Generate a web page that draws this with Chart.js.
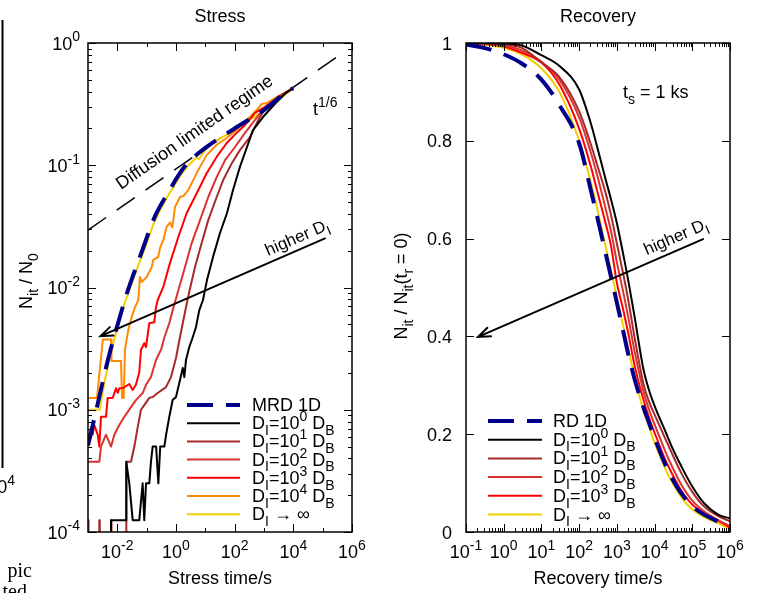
<!DOCTYPE html>
<html>
<head>
<meta charset="utf-8">
<script src="https://cdn.jsdelivr.net/npm/chart.js@4.4.1/dist/chart.umd.min.js"></script>
<style>
  html, body { margin: 0; padding: 0; background: #fff; }
  #wrap { position: relative; width: 760px; height: 593px; overflow: hidden; }
  canvas { position: absolute; top: 0; }
  #stress { left: 0; }
  #recovery { left: 380px; }
</style>
</head>
<body>
<div id="wrap">
  <canvas id="stress" width="380" height="593"></canvas>
  <canvas id="recovery" width="380" height="593"></canvas>
</div>
<script>
(function () {
    "use strict";

    // ---- stress panel: N_it / N_0 vs stress time (log-log) ----
    const stressTicksX = [1e-2, 1, 1e2, 1e4, 1e6];
    const stressTickLabelsX = ["10^{-2}", "10^{0}", "10^{2}", "10^{4}", "10^{6}"];
    const stressMinorX = [1e-1, 1e1, 1e3, 1e5];
    const stressTicksY = [1, 1e-1, 1e-2, 1e-3, 1e-4];
    const stressTickLabelsY = ["10^{0}", "10^{-1}", "10^{-2}", "10^{-3}", "10^{-4}"];

    const stressLabels = ["MRD 1D", "D_{I}=10^{0} D_{B}", "D_{I}=10^{1} D_{B}", "D_{I}=10^{2} D_{B}",
        "D_{I}=10^{3} D_{B}", "D_{I}=10^{4} D_{B}", "D_{I} \u2192 \u221e"];

    const mrdT = [1e-3, 2.2e-3, 4.8e-3, 9.8e-3, 2.3e-2, 5.9e-2, 0.19, 0.49, 2.0, 9.8, 100, 850, 5200, 9800];
    const mrdN = [5.1e-4, 1.15e-3, 2.57e-3, 4.8e-3, 9.5e-3, 1.78e-2, 3.8e-2, 5.75e-2, 9.8e-2, 0.138, 0.2, 0.275, 0.39, 0.427];

    const d0T = [6.05e-3, 6.1e-3, 2.0e-2, 2.02e-2, 2.56e-2, 3.34e-2, 5.6e-2, 7.3e-2, 8.3e-2, 9.5e-2, 0.123, 0.14, 0.16,
        0.21, 0.25, 0.29, 0.40, 0.46, 0.59, 0.77, 1.0, 1.48, 1.7, 1.92, 2.19, 2.84, 3.7, 4.8, 6.2, 8.3, 11.4, 18.3,
        31.6, 54.8, 88, 151, 263, 422, 925, 2400, 5200, 9800];
    const d0N = [1e-6, 1.25e-4, 1.25e-4, 3.75e-4, 2.5e-4, 1.25e-4, 1.25e-4, 2.5e-4, 1.25e-4, 2.5e-4, 2.5e-4, 3.75e-4, 5e-4,
        5e-4, 2.5e-4, 5e-4, 5e-4, 6.25e-4, 8.75e-4, 1.2e-3, 1.27e-3, 1.9e-3, 2.2e-3, 1.85e-3, 2.55e-3, 3.26e-3, 3.9e-3,
        4.75e-3, 6.5e-3, 7.9e-3, 1.15e-2, 1.78e-2, 2.79e-2, 4.07e-2, 6.28e-2, 9.7e-2, 0.141, 0.194, 0.248, 0.32, 0.385, 0.428];

    const d1T = [1e-3, 1.04e-3, 2.35e-3, 2.43e-3, 2.52e-3, 5.9e-3, 6.1e-3, 6.3e-3, 1.95e-2, 2.05e-2, 2.92e-2, 3.8e-2,
        4.95e-2, 6.4e-2, 8.3e-2, 0.123, 0.161, 0.238, 0.456, 0.676, 1.0, 1.3, 1.7, 2.19, 3.0, 4.45, 7.5, 12.6, 24.4,
        41, 80, 151, 331, 640, 1080, 3500, 9800];
    const d1N = [1.25e-4, 1e-6, 1e-6, 1.25e-4, 1e-6, 1e-6, 1.25e-4, 1e-6, 1e-6, 3.75e-4, 3.75e-4, 5e-4,
        7.2e-4, 1.0e-3, 1.09e-3, 1.25e-3, 1.27e-3, 1.37e-3, 1.53e-3, 1.85e-3, 2.65e-3, 3.7e-3, 5.1e-3, 6.9e-3, 9.8e-3,
        1.47e-2, 2.31e-2, 3.56e-2, 5.5e-2, 7.6e-2, 0.104, 0.133, 0.17, 0.235, 0.29, 0.365, 0.428];

    const d2T = [1e-3, 2.43e-3, 2.77e-3, 4.1e-3, 6.1e-3, 7.9e-3, 1.17e-2, 1.73e-2, 2.92e-2, 4.3e-2, 7.3e-2, 9.5e-2,
        0.14, 0.208, 0.31, 0.40, 0.59, 0.77, 1.2, 2.03, 3.43, 6.6, 12.6, 24.4, 46.9, 103, 225, 400, 640, 1080, 3500, 9800];
    const d2N = [3.75e-4, 3.75e-4, 5e-4, 6.25e-4, 5e-4, 6.25e-4, 7.5e-4, 8.75e-4, 1.05e-3, 1.2e-3, 1.37e-3, 1.6e-3,
        1.85e-3, 2.55e-3, 3.1e-3, 3.9e-3, 5.1e-3, 6.5e-3, 9.5e-3, 1.47e-2, 2.31e-2, 3.56e-2, 5.5e-2, 8.0e-2, 0.11,
        0.141, 0.184, 0.22, 0.255, 0.30, 0.368, 0.428];

    const d3T = [1e-3, 1.45e-3, 1.64e-3, 2.14e-3, 2.43e-3, 2.77e-3, 4.1e-3, 4.7e-3, 6.95e-3, 9e-3, 1.03e-2, 1.17e-2,
        1.52e-2, 2.56e-2, 3.34e-2, 4.3e-2, 5.6e-2, 6.4e-2, 8.3e-2, 9.5e-2, 0.123, 0.182, 0.208, 0.238, 0.369, 0.625,
        1.2, 2.32, 5.1, 11.1, 24.4, 53.6, 117, 225, 494, 1080, 3500, 9800];
    const d3N = [6.25e-4, 6.25e-4, 7.5e-4, 6.25e-4, 5e-4, 8.75e-4, 8.75e-4, 1.25e-3, 1.25e-3, 1.5e-3, 1.375e-3, 1.5e-3,
        1.5e-3, 1.625e-3, 1.45e-3, 1.6e-3, 2.03e-3, 3.1e-3, 3.5e-3, 3.26e-3, 5.1e-3, 5.2e-3, 6.9e-3, 7.9e-3, 1.01e-2,
        1.59e-2, 2.59e-2, 4.07e-2, 5.9e-2, 8.6e-2, 0.117, 0.152, 0.184, 0.213, 0.268, 0.30, 0.368, 0.428];

    const d4T = [1e-3, 2.03e-3, 3.2e-3, 6.1e-3, 6.3e-3, 1.33e-2, 1.45e-2, 1.65e-2, 1.82e-2, 2.37e-2, 3.09e-2, 4.0e-2,
        5.2e-2, 5.9e-2, 6.8e-2, 0.1, 0.149, 0.168, 0.249, 0.285, 0.369, 0.48, 0.625, 0.75, 0.925, 1.37, 1.78, 2.63,
        3.9, 5.1, 6.6, 11.1, 24.4, 53.6, 117, 257, 562, 832, 1230, 2700, 7700, 9800];
    const d4N = [1.25e-3, 1.25e-3, 3.75e-3, 3.75e-3, 2.5e-3, 2.5e-3, 1.25e-3, 1.25e-3, 3.1e-3, 4.5e-3, 5.75e-3, 6.9e-3,
        7.9e-3, 1.22e-2, 1.11e-2, 1.22e-2, 1.47e-2, 1.68e-2, 1.78e-2, 2.1e-2, 2.45e-2, 3.13e-2, 3.4e-2, 3.1e-2, 4.56e-2,
        5.5e-2, 5.6e-2, 6.28e-2, 7.6e-2, 8.65e-2, 9.7e-2, 0.121, 0.147, 0.167, 0.194, 0.234, 0.283, 0.317, 0.323,
        0.361, 0.413, 0.428];

    const dInfT = [1e-3, 2.5e-3, 3.6e-3, 5.3e-3, 7.9e-3, 1.2e-2, 1.8e-2, 3e-2, 5.9e-2, 0.1, 0.17, 0.3, 0.5, 1, 1.6,
        2.5, 4, 5, 6, 8, 12, 20, 35, 60, 100, 300, 1000, 3000, 9800];
    const dInfN = [1e-3, 1e-3, 1.65e-3, 2.6e-3, 3.8e-3, 5.4e-3, 7.5e-3, 1.05e-2, 1.65e-2, 2.3e-2, 3.3e-2, 4.4e-2,
        5.5e-2, 7.2e-2, 8.6e-2, 9.8e-2, 0.11, 0.116, 0.112, 0.124, 0.14, 0.154, 0.168, 0.18, 0.195, 0.232, 0.28, 0.34, 0.427];

    // t^(1/6) guide line
    const guideT = [1e-3, 3.9e5];
    const guideN = [0.0295, 0.80];

    const stressArrow = [[1.2e5, 0.0252], [2.67e-3, 4.0e-3]];

    // ---- recovery panel: N_it / N_it(t_r = 0) vs recovery time ----
    const recTicksX = [1e-1, 1, 1e1, 1e2, 1e3, 1e4, 1e5, 1e6];
    const recTickLabelsX = ["10^{-1}", "10^{0}", "10^{1}", "10^{2}", "10^{3}", "10^{4}", "10^{5}", "10^{6}"];
    const recTicksY = [0, 0.2, 0.4, 0.6, 0.8, 1];
    const recTickLabelsY = ["0", "0.2", "0.4", "0.6", "0.8", "1"];

    const recLabels = ["RD 1D", "D_{I}=10^{0} D_{B}", "D_{I}=10^{1} D_{B}", "D_{I}=10^{2} D_{B}",
        "D_{I}=10^{3} D_{B}", "D_{I} \u2192 \u221e"];

    const recTime = [0.1, 0.3, 1, 3, 10, 30, 100, 200, 300, 500, 700, 1000, 1500, 2000, 3000, 5000, 7000,
        1e4, 2e4, 3e4, 5e4, 1e5, 2e5, 5e5, 1e6];
    const recRd = [0.997, 0.99, 0.977, 0.958, 0.925, 0.873, 0.795, 0.702, 0.645, 0.571, 0.522, 0.469, 0.408, 0.364,
        0.311, 0.256, 0.225, 0.192, 0.135, 0.108, 0.080, 0.053, 0.036, 0.021, 0.008];
    const recD0 = [1.0, 1.0, 0.999, 0.995, 0.975, 0.953, 0.905, 0.838, 0.788, 0.722, 0.68, 0.632, 0.565, 0.515,
        0.437, 0.335, 0.292, 0.258, 0.203, 0.171, 0.136, 0.093, 0.06, 0.035, 0.028];
    const recD1 = [1.0, 0.999, 0.996, 0.99, 0.96, 0.93, 0.86, 0.795, 0.751, 0.694, 0.648, 0.59, 0.525, 0.475,
        0.395, 0.305, 0.268, 0.24, 0.188, 0.158, 0.122, 0.082, 0.053, 0.032, 0.022];
    const recD2 = [1.0, 0.999, 0.995, 0.985, 0.962, 0.925, 0.848, 0.778, 0.73, 0.662, 0.615, 0.552, 0.488, 0.44,
        0.367, 0.29, 0.252, 0.22, 0.162, 0.132, 0.098, 0.064, 0.043, 0.024, 0.012];
    const recD3 = [1.0, 0.998, 0.993, 0.98, 0.96, 0.915, 0.825, 0.75, 0.698, 0.632, 0.585, 0.51, 0.452, 0.407,
        0.338, 0.272, 0.236, 0.203, 0.145, 0.117, 0.086, 0.056, 0.039, 0.022, 0.009];
    const recInf = [1.0, 0.997, 0.99, 0.977, 0.948, 0.9, 0.8, 0.718, 0.662, 0.585, 0.535, 0.48, 0.418, 0.375,
        0.315, 0.25, 0.217, 0.183, 0.126, 0.1, 0.072, 0.046, 0.031, 0.017, 0.007];

    const recArrow = [[1.93e5, 0.599], [0.209, 0.399]];

    const COLORS = {
        mrd: "#00008b",
        d0: "#000000",
        d1: "#a52a2a",
        d2: "#dc3232",
        d3: "#ff0000",
        d4: "#ff8c00",
        inf: "#f2d000",
    };

    const FAMILY = "'Liberation Sans', Arial, Helvetica, sans-serif";
    const SERIF = "'Liberation Serif', 'Times New Roman', serif";
    const fontOf = (size, family) => `${size}px ${family || FAMILY}`;

    // tiny gnuplot-style markup: ^{..} superscript, _{..} subscript
    function parseRich(str) {
        const parts = [];
        let buf = "";
        let i = 0;
        while (i < str.length) {
            const c = str[i];
            if (c === "^" || c === "_") {
                if (buf) { parts.push({ t: buf, k: "" }); buf = ""; }
                let seg;
                if (str[i + 1] === "{") {
                    const j = str.indexOf("}", i + 2);
                    seg = str.slice(i + 2, j);
                    i = j + 1;
                } else {
                    seg = str[i + 1];
                    i += 2;
                }
                parts.push({ t: seg, k: c === "^" ? "sup" : "sub" });
            } else {
                buf += c;
                i++;
            }
        }
        if (buf) { parts.push({ t: buf, k: "" }); }
        return parts;
    }

    function drawRich(ctx, str, x, y, align, size, family) {
        size = size || 18;
        const small = Math.round(size * 0.75);
        const parts = parseRich(str);
        let w = 0;
        parts.forEach(p => {
            ctx.font = fontOf(p.k ? small : size, family);
            w += ctx.measureText(p.t).width;
        });
        let cx = align === "right" ? x - w : align === "center" ? x - w / 2 : x;
        ctx.save();
        ctx.fillStyle = "#000";
        ctx.textAlign = "left";
        ctx.textBaseline = "alphabetic";
        parts.forEach(p => {
            ctx.font = fontOf(p.k ? small : size, family);
            const dy = p.k === "sup" ? -size * 0.45 : p.k === "sub" ? size * 0.32 : 0;
            ctx.fillText(p.t, cx, y + dy);
            cx += ctx.measureText(p.t).width;
        });
        ctx.restore();
    }

    // frame with inward ticks on all four sides, tick labels and titles
    const gnuFrame = {
        id: "gnuFrame",
        afterDatasetsDraw(chart, args, o) {
            const { ctx, chartArea: a } = chart;
            const x = chart.scales.x;
            const y = chart.scales.y;
            ctx.save();
            ctx.strokeStyle = "#000";
            ctx.lineWidth = 1;
            ctx.beginPath();
            const xTick = (v, len) => {
                const p = Math.round(x.getPixelForValue(v)) + 0.5;
                ctx.moveTo(p, a.bottom); ctx.lineTo(p, a.bottom - len);
                ctx.moveTo(p, a.top); ctx.lineTo(p, a.top + len);
            };
            const yTick = (v, len) => {
                const p = Math.round(y.getPixelForValue(v)) + 0.5;
                ctx.moveTo(a.left, p); ctx.lineTo(a.left + len, p);
                ctx.moveTo(a.right, p); ctx.lineTo(a.right - len, p);
            };
            o.xMajor.forEach(v => xTick(v, 8));
            (o.xMinor || []).forEach(v => xTick(v, 4));
            o.yMajor.forEach(v => yTick(v, 8));
            (o.yMinor || []).forEach(v => yTick(v, 4));
            ctx.stroke();
            ctx.lineWidth = 1.5;
            ctx.strokeRect(a.left, a.top, a.right - a.left, a.bottom - a.top);
            ctx.restore();

            o.xMajor.forEach((v, i) => drawRich(ctx, o.xLabels[i], x.getPixelForValue(v), a.bottom + 26, "center"));
            o.yMajor.forEach((v, i) => drawRich(ctx, o.yLabels[i], a.left - o.yGap, y.getPixelForValue(v) + 6.5, "right"));

            const midX = (a.left + a.right) / 2;
            drawRich(ctx, o.title, midX, 22, "center");
            drawRich(ctx, o.xTitle, midX, a.bottom + 52, "center");
            ctx.save();
            ctx.translate(o.yTitleX, o.yTitleY);
            ctx.rotate(-Math.PI / 2);
            drawRich(ctx, o.yTitle, 0, 0, "center");
            ctx.restore();
        },
    };

    // key drawn from the datasets that carry a label
    const keyPlugin = {
        id: "key",
        afterDatasetsDraw(chart, args, o) {
            const { ctx } = chart;
            let row = 0;
            chart.data.datasets.forEach(ds => {
                if (!ds.label) { return; }
                const yy = o.top + row * o.step;
                ctx.save();
                ctx.strokeStyle = ds.borderColor;
                ctx.lineWidth = ds.borderWidth;
                ctx.setLineDash(ds.borderDash || []);
                ctx.beginPath();
                ctx.moveTo(o.x0, yy);
                ctx.lineTo(o.x1, yy);
                ctx.stroke();
                ctx.restore();
                drawRich(ctx, ds.label, o.textX, yy + 6, "left");
                row++;
            });
        },
    };

    // arrows and rotated notes placed in data coordinates
    const notesPlugin = {
        id: "notes",
        afterDatasetsDraw(chart, args, o) {
            const { ctx } = chart;
            const sx = chart.scales.x;
            const sy = chart.scales.y;
            const px = p => [sx.getPixelForValue(p[0]), sy.getPixelForValue(p[1])];
            (o.arrows || []).forEach(([tail, head]) => {
                const [x0, y0] = px(tail);
                const [x1, y1] = px(head);
                const ang = Math.atan2(y1 - y0, x1 - x0);
                const len = 13;
                const spread = 0.36;
                ctx.save();
                ctx.strokeStyle = "#000";
                ctx.lineWidth = 2;
                ctx.lineCap = "round";
                ctx.beginPath();
                ctx.moveTo(x0, y0);
                ctx.lineTo(x1, y1);
                ctx.moveTo(x1 - len * Math.cos(ang - spread), y1 - len * Math.sin(ang - spread));
                ctx.lineTo(x1, y1);
                ctx.lineTo(x1 - len * Math.cos(ang + spread), y1 - len * Math.sin(ang + spread));
                ctx.stroke();
                ctx.restore();
            });
            (o.texts || []).forEach(n => {
                const [tx, ty] = px(n.at);
                let ang = 0;
                if (n.along) {
                    const [p0, p1] = n.along.map(px);
                    ang = Math.atan2(p1[1] - p0[1], p1[0] - p0[0]);
                }
                ctx.save();
                ctx.translate(tx, ty);
                ctx.rotate(ang);
                drawRich(ctx, n.text, 0, 0, "left", n.size || 18);
                ctx.restore();
            });
            (o.fragments || []).forEach(f => {
                if (f.rule) {
                    ctx.save();
                    ctx.fillStyle = "#000";
                    ctx.fillRect(f.rule[0], f.rule[1], f.rule[2], f.rule[3]);
                    ctx.restore();
                } else {
                    drawRich(ctx, f.text, f.x, f.y, "right", f.size || 18, f.family);
                }
            });
        },
    };

    const zip = (xs, ys) => xs.map((v, i) => ({ x: v, y: ys[i] }));

    function line(label, xs, ys, color, extra) {
        return Object.assign({
            label,
            data: zip(xs, ys),
            borderColor: color,
            backgroundColor: color,
            borderWidth: 2,
            pointRadius: 0,
            fill: false,
            tension: 0,
            borderJoinStyle: "round",
        }, extra || {});
    }

    const minorLog = (from, to) => {
        const out = [];
        for (let e = from; e < to; e++) {
            for (let m = 2; m <= 9; m++) { out.push(m * Math.pow(10, e)); }
        }
        return out;
    };

    const dashed = { borderDash: [26, 13], borderWidth: 4, cubicInterpolationMode: "monotone" };

    new Chart(document.getElementById("stress"), {
        type: "line",
        data: {
            datasets: [
                line(stressLabels[0], mrdT, mrdN, COLORS.mrd, dashed),
                line(stressLabels[1], d0T, d0N, COLORS.d0),
                line(stressLabels[2], d1T, d1N, COLORS.d1),
                line(stressLabels[3], d2T, d2N, COLORS.d2),
                line(stressLabels[4], d3T, d3N, COLORS.d3),
                line(stressLabels[5], d4T, d4N, COLORS.d4),
                line(stressLabels[6], dInfT, dInfN, COLORS.inf),
                line("", guideT, guideN, "#000", { borderWidth: 1.5, borderDash: [22, 13] }),
            ],
        },
        options: {
            responsive: false,
            animation: false,
            devicePixelRatio: 1,
            layout: { padding: { left: 88, right: 28, top: 43, bottom: 61 } },
            scales: {
                x: { type: "logarithmic", min: 1e-3, max: 1e6, display: false },
                y: { type: "logarithmic", min: 1e-4, max: 1, display: false },
            },
            plugins: {
                legend: { display: false },
                tooltip: { enabled: false },
                gnuFrame: {
                    xMajor: stressTicksX, xMinor: stressMinorX, xLabels: stressTickLabelsX,
                    yMajor: stressTicksY, yMinor: minorLog(-4, 0), yLabels: stressTickLabelsY, yGap: 8,
                    title: "Stress", xTitle: "Stress time/s",
                    yTitle: "N_{it} / N_{0}", yTitleX: 32, yTitleY: 281,
                },
                key: { x0: 187, x1: 240, textX: 252, top: 405, step: 18.2 },
                notes: {
                    arrows: [stressArrow],
                    texts: [
                        { text: "Diffusion limited regime", at: [1.33e-2, 0.0627],
                          along: [[guideT[0], guideN[0]], [guideT[1], guideN[1]]] },
                        { text: "higher D_{I}", at: [1370, 0.0181], along: [stressArrow[1], stressArrow[0]], size: 17 },
                        { text: "t^{1/6}", at: [4.69e4, 0.2577] },
                    ],
                    fragments: [
                        { rule: [1.5, 20, 2, 448] },
                        { text: "10^{4}", x: 15, y: 493 },
                        { text: "pic", x: 32, y: 577, size: 20, family: SERIF },
                        { text: "ted", x: 27, y: 598, size: 20, family: SERIF },
                    ],
                },
            },
        },
        plugins: [gnuFrame, keyPlugin, notesPlugin],
    });

    const smooth = { cubicInterpolationMode: "monotone" };

    new Chart(document.getElementById("recovery"), {
        type: "line",
        data: {
            datasets: [
                line(recLabels[0], recTime, recRd, COLORS.mrd, dashed),
                line(recLabels[1], recTime, recD0, COLORS.d0, smooth),
                line(recLabels[2], recTime, recD1, COLORS.d1, smooth),
                line(recLabels[3], recTime, recD2, COLORS.d2, smooth),
                line(recLabels[4], recTime, recD3, COLORS.d3, smooth),
                line(recLabels[5], recTime, recInf, COLORS.inf, smooth),
            ],
        },
        options: {
            responsive: false,
            animation: false,
            devicePixelRatio: 1,
            layout: { padding: { left: 86, right: 30, top: 43, bottom: 61 } },
            scales: {
                x: { type: "logarithmic", min: 0.1, max: 1e6, display: false },
                y: { type: "linear", min: 0, max: 1, display: false },
            },
            plugins: {
                legend: { display: false },
                tooltip: { enabled: false },
                gnuFrame: {
                    xMajor: recTicksX, xMinor: minorLog(-1, 6), xLabels: recTickLabelsX,
                    yMajor: recTicksY, yLabels: recTickLabelsY, yGap: 14,
                    title: "Recovery", xTitle: "Recovery time/s",
                    yTitle: "N_{it} / N_{it}(t_{r} = 0)", yTitleX: 27, yTitleY: 286,
                },
                key: { x0: 108, x1: 162, textX: 173, top: 421, step: 18.7 },
                notes: {
                    arrows: [recArrow],
                    texts: [
                        { text: "t_{s} = 1 ks", at: [1455, 0.8875] },
                        { text: "higher D_{I}", at: [6190, 0.566], along: [recArrow[1], recArrow[0]], size: 17 },
                    ],
                },
            },
        },
        plugins: [gnuFrame, keyPlugin, notesPlugin],
    });
})();
</script>
</body>
</html>
